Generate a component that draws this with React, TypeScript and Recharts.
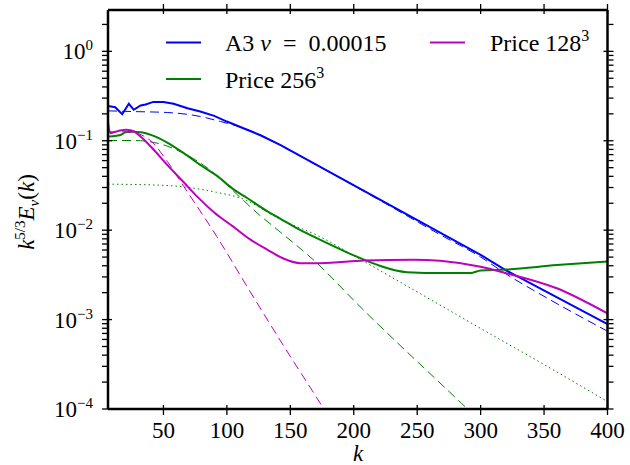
import React from "react";
import { LineChart, Line, XAxis, YAxis } from "recharts";

const FONT = "'Liberation Serif', 'Times New Roman', serif";
const Y_MIN = 1e-4;
const Y_MAX = 2.9;
const K_MIN = 6.3;
const K_MAX = 400;

const kTicks = [50, 100, 150, 200, 250, 300, 350, 400];
const decades = [1e-4, 1e-3, 1e-2, 1e-1, 1];
const yTicks: number[] = [];
decades.forEach((d) => {
    for (let m = 1; m <= 9; m++) {
        const v = d * m;
        if (v <= Y_MAX) yTicks.push(v);
    }
});

// A3 nu = 0.00015 (solid) and its fit (dashed)
const a3K = [6.3, 12, 17.5, 22.7, 26.6, 32, 36, 42, 50, 58, 69, 79, 90, 100, 113, 126, 142, 221, 300, 320, 400];
const a3V = [0.245, 0.237, 0.198, 0.259, 0.222, 0.248, 0.254, 0.272, 0.272, 0.259, 0.231, 0.212, 0.19, 0.164, 0.138, 0.116, 0.09, 0.0218, 0.0053, 0.00355, 0.00089];
const a3FitK = [6.3, 27, 53, 79, 95, 111, 130, 142, 221, 268, 300, 320, 350, 400];
const a3FitV = [0.216, 0.212, 0.207, 0.187, 0.164, 0.142, 0.11, 0.0891, 0.0214, 0.00891, 0.00501, 0.00324, 0.00182, 0.000741];

// Price 256^3 (solid) and fits (dashed, dotted)
const p256K = [6.3, 13, 17, 20, 25, 32, 40, 53, 66, 80, 92, 105, 116, 132, 142, 158, 168, 195, 208, 221, 242, 270, 292, 300, 320, 360, 400];
const p256V = [0.1114, 0.1135, 0.1175, 0.1245, 0.1259, 0.1245, 0.1164, 0.0955, 0.0726, 0.0525, 0.0407, 0.0288, 0.0229, 0.0162, 0.0135, 0.01, 0.00851, 0.00562, 0.00468, 0.00398, 0.00339, 0.00331, 0.00331, 0.00355, 0.00363, 0.00407, 0.00447];
const p256DashK = [6.3, 27, 45, 66, 87, 105, 124, 142, 168, 206, 289, 300];
const p256DashV = [0.1007, 0.1007, 0.094, 0.0724, 0.0468, 0.0275, 0.0155, 0.00955, 0.00468, 0.00135, 0.000102, 0.0000724];
const p256DotK = [6.3, 40, 66, 92, 111, 145, 170, 208, 250, 302, 355, 400];
const p256DotV = [0.0327, 0.0321, 0.0305, 0.0265, 0.0228, 0.0126, 0.00891, 0.00447, 0.00204, 0.000767, 0.000286, 0.000121];

// Price 128^3 (solid) and fit (dashed)
const p128K = [6.3, 8, 12, 16, 21, 27, 32, 40, 53, 66, 77, 90, 105, 118, 132, 145, 158, 174, 208, 247, 268, 300, 320, 360, 400];
const p128V = [0.164, 0.1216, 0.1259, 0.1303, 0.1324, 0.1268, 0.1114, 0.0861, 0.0537, 0.0343, 0.0234, 0.0158, 0.01096, 0.00794, 0.00603, 0.00479, 0.00427, 0.00427, 0.00457, 0.00468, 0.00454, 0.00389, 0.00331, 0.00224, 0.00117];
const p128DashK = [6.3, 20, 30, 40, 53, 66, 92, 118, 145, 176, 185];
const p128DashV = [0.126, 0.126, 0.12, 0.1, 0.0589, 0.0309, 0.00851, 0.00209, 0.000501, 0.000102, 0.0000631];

const toRows = (ks: number[], vs: number[]) => ks.map((k, i) => ({ k, v: vs[i] }));

const BLUE = "#0000ff";
const GREEN = "#008000";
const MAGENTA = "#bf00bf";
const FS = 23;
const LFS = 24;
const SUP = 15;

const isMajor = (v: number) => Math.abs(Math.log10(v) - Math.round(Math.log10(v))) < 1e-9;

const BottomTick = (props: any) => {
    const { x, y, payload } = props;
    return (
        <g>
            <line x1={x} x2={x} y1={y} y2={y - 10} stroke="#000" strokeWidth={1.3} />
            <text x={x} y={y + 23} textAnchor="middle" fontSize={FS} fontFamily={FONT} fill="#000">
                {payload.value}
            </text>
        </g>
    );
};

const TopTick = (props: any) => {
    const { x, y } = props;
    return <line x1={x} x2={x} y1={y} y2={y + 10} stroke="#000" strokeWidth={1.3} />;
};

const LeftTick = (props: any) => {
    const { x, y, payload } = props;
    const major = isMajor(payload.value);
    const e = Math.round(Math.log10(payload.value));
    return (
        <g>
            <line x1={x} x2={x + (major ? 10 : 5)} y1={y} y2={y} stroke="#000" strokeWidth={1.3} />
            {major && (
                <text x={x - 9} y={y + 8} textAnchor="end" fontSize={FS} fontFamily={FONT} fill="#000">
                    10
                    <tspan dy={-9} fontSize={SUP}>
                        {e < 0 ? `\u2212${-e}` : `${e}`}
                    </tspan>
                </text>
            )}
        </g>
    );
};

const RightTick = (props: any) => {
    const { x, y, payload } = props;
    const major = isMajor(payload.value);
    return <line x1={x} x2={x - (major ? 10 : 5)} y1={y} y2={y} stroke="#000" strokeWidth={1.3} />;
};

const LegendItems = () => (
    <g fontFamily={FONT} fontSize={LFS} fill="#000">
        <line x1={166} x2={201} y1={42.5} y2={42.5} stroke={BLUE} strokeWidth={2} />
        <text x={225} y={51} style={{ whiteSpace: "pre" }}>
            {"A3 "}
            <tspan fontStyle="italic">ν</tspan>
            {"  =  0.00015"}
        </text>
        <line x1={430} x2={465} y1={42.5} y2={42.5} stroke={MAGENTA} strokeWidth={2} />
        <text x={490} y={51}>
            Price 128<tspan dy={-10} fontSize={SUP + 1}>3</tspan>
        </text>
        <line x1={166} x2={201} y1={79} y2={79} stroke={GREEN} strokeWidth={2} />
        <text x={225} y={87.5}>
            Price 256<tspan dy={-10} fontSize={SUP + 1}>3</tspan>
        </text>
    </g>
);

const AxisLabels = () => (
    <g fontFamily={FONT} fontSize={FS} fill="#000">
        <text x={358} y={461} textAnchor="middle" fontStyle="italic">
            k
        </text>
        <text transform="translate(34,212) rotate(-90)" textAnchor="middle">
            <tspan fontStyle="italic">k</tspan>
            <tspan dy={-9} fontSize={SUP}>5/3</tspan>
            <tspan dy={9} fontStyle="italic">E</tspan>
            <tspan dy={5} fontSize={SUP} fontStyle="italic">v</tspan>
            <tspan dy={-5}>(</tspan>
            <tspan fontStyle="italic">k</tspan>
            <tspan>)</tspan>
        </text>
    </g>
);

const frame = { stroke: "#000", strokeWidth: 2.5 };

const App: React.FC = () => {
    return (
        <div style={{ position: "absolute", left: 0, top: 0 }}>
            <LineChart width={630} height={465} margin={{ top: 9, right: 21.5, bottom: 55, left: 107 }}>
                <XAxis
                    dataKey="k"
                    type="number"
                    domain={[K_MIN, K_MAX]}
                    allowDataOverflow
                    ticks={kTicks}
                    interval={0}
                    height={1}
                    tickLine={false}
                    tickMargin={0}
                    axisLine={frame}
                    tick={<BottomTick />}
                />
                <XAxis
                    xAxisId="top"
                    orientation="top"
                    dataKey="k"
                    type="number"
                    domain={[K_MIN, K_MAX]}
                    allowDataOverflow
                    ticks={kTicks}
                    interval={0}
                    height={1}
                    tickLine={false}
                    tickMargin={0}
                    axisLine={frame}
                    tick={<TopTick />}
                />
                <YAxis
                    type="number"
                    scale="log"
                    domain={[Y_MIN, Y_MAX]}
                    allowDataOverflow
                    ticks={yTicks}
                    interval={0}
                    width={1}
                    tickLine={false}
                    tickMargin={0}
                    axisLine={frame}
                    tick={<LeftTick />}
                />
                <YAxis
                    yAxisId="right"
                    orientation="right"
                    type="number"
                    scale="log"
                    domain={[Y_MIN, Y_MAX]}
                    allowDataOverflow
                    ticks={yTicks}
                    interval={0}
                    width={1}
                    tickLine={false}
                    tickMargin={0}
                    axisLine={frame}
                    tick={<RightTick />}
                />
                <Line data={toRows(a3K, a3V)} dataKey="v" type="linear" stroke={BLUE} strokeWidth={2} dot={false} isAnimationActive={false} />
                <Line data={toRows(a3FitK, a3FitV)} dataKey="v" type="monotone" stroke={BLUE} strokeWidth={1} strokeDasharray="9 5" dot={false} isAnimationActive={false} />
                <Line data={toRows(p256K, p256V)} dataKey="v" type="monotone" stroke={GREEN} strokeWidth={2} dot={false} isAnimationActive={false} />
                <Line data={toRows(p256DashK, p256DashV)} dataKey="v" type="monotone" stroke={GREEN} strokeWidth={1} strokeDasharray="9 5" dot={false} isAnimationActive={false} />
                <Line data={toRows(p256DotK, p256DotV)} dataKey="v" type="monotone" stroke={GREEN} strokeWidth={1} strokeDasharray="1.5 3" dot={false} isAnimationActive={false} />
                <Line data={toRows(p128K, p128V)} dataKey="v" type="monotone" stroke={MAGENTA} strokeWidth={2} dot={false} isAnimationActive={false} />
                <Line data={toRows(p128DashK, p128DashV)} dataKey="v" type="monotone" stroke={MAGENTA} strokeWidth={1} strokeDasharray="9 5" dot={false} isAnimationActive={false} />
                <LegendItems />
                <AxisLabels />
            </LineChart>
        </div>
    );
};

export default App;
